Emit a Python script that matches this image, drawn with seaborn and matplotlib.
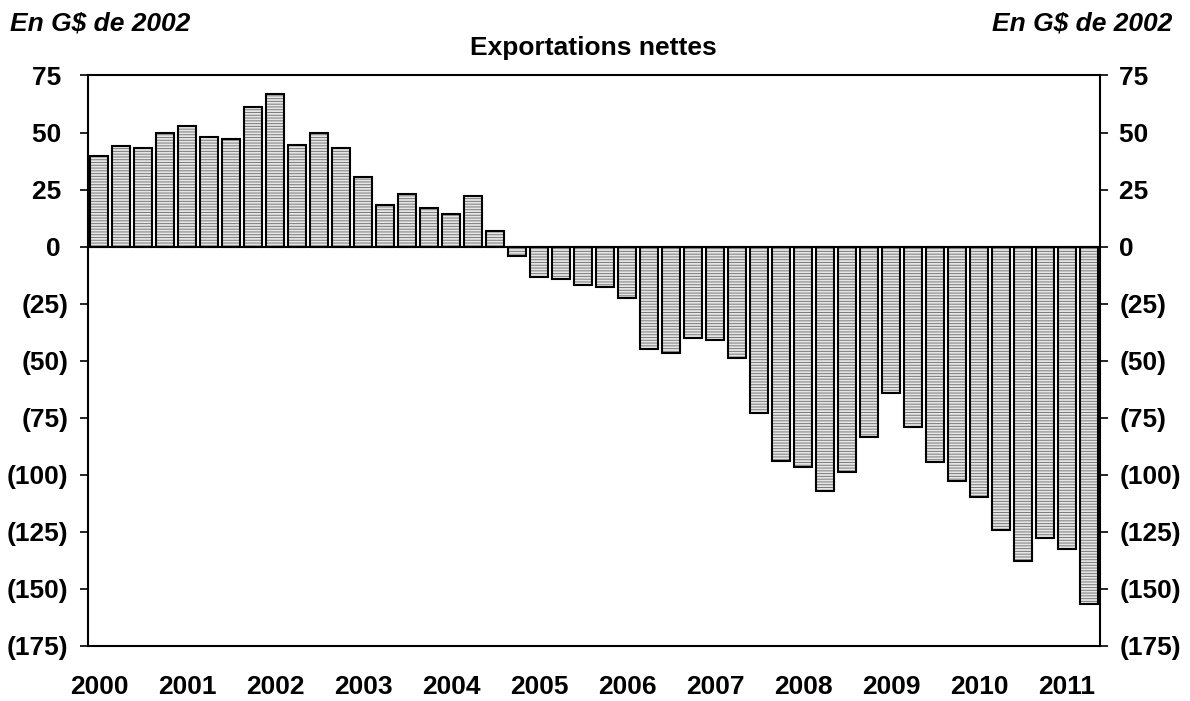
import matplotlib
matplotlib.use('Agg')
import matplotlib.pyplot as plt
import seaborn as sns
import pandas as pd
import numpy as np

sns.set_style('white')
plt.rcParams['font.family'] = ['Liberation Sans', 'DejaVu Sans']
plt.rcParams.update({'hatch.linewidth': 0.7, 'text.color': 'black',
                     'xtick.color': 'black', 'ytick.color': 'black'})

# Exportations nettes, trimestriel 2000T1 - 2011T2 (G$ de 2002)
years = list(range(2000, 2012))
quarters = [f'{y}T{q}' for y in years for q in range(1, 5)][:46]
net_exports = [39.7, 43.9, 43.0, 49.6, 52.9, 48.0, 47.1, 61.1, 67.0, 44.7,
               49.6, 43.0, 30.7, 18.3, 23.2, 16.7, 14.2, 22.3, 6.7, -4.2,
               -13.3, -14.2, -16.7, -17.6, -22.4, -44.8, -46.5, -39.9, -40.8, -48.9,
               -72.8, -94.0, -96.6, -107.1, -98.9, -83.4, -64.3, -79.1, -94.6, -102.9,
               -109.6, -124.4, -137.7, -127.7, -132.8, -156.6]
y_ticks = [75, 50, 25, 0, -25, -50, -75, -100, -125, -150, -175]


def fmt(v):
    return f'({abs(v)})' if v < 0 else f'{v} '


def draw():
    df = pd.DataFrame({'trimestre': quarters, 'valeur': net_exports})
    fig = plt.figure(figsize=(11.9, 7.01), dpi=100, facecolor='white')
    ax = fig.add_axes([0.0739, 0.0789, 0.8505, 0.8134])

    # hatched fill
    sns.barplot(data=df, x='trimestre', y='valeur', ax=ax, color='#e6e6e6',
                width=0.82, saturation=1, edgecolor='#7a7a7a', linewidth=0,
                hatch='------', errorbar=None)
    n = len(ax.patches)
    # black outline
    sns.barplot(data=df, x='trimestre', y='valeur', ax=ax, color='white',
                width=0.82, saturation=1, errorbar=None)
    for p in ax.patches[n:]:
        p.set_facecolor('none')
        p.set_edgecolor('black')
        p.set_linewidth(1.5)

    ax.axhline(0, color='black', lw=1.5, zorder=5)
    ax.set_xlim(-0.5, len(quarters) - 0.5)
    ax.set_ylim(-175, 75)

    ax.set_yticks(y_ticks)
    ax.set_yticklabels([fmt(v) for v in y_ticks], fontsize=19, fontweight='bold')
    ax.tick_params(axis='y', direction='out', length=6, width=1.2, pad=8,
                   left=True, right=True, labelleft=True, labelright=True)

    pos = [i for i, q in enumerate(quarters) if q.endswith('T1')]
    ax.set_xticks(pos)
    ax.set_xticklabels([q[:4] for q in quarters if q.endswith('T1')],
                       fontsize=19, fontweight='bold')
    ax.tick_params(axis='x', length=0, pad=21)
    ax.set_xlabel('')
    ax.set_ylabel('')

    for s in ax.spines.values():
        s.set_visible(True)
        s.set_color('black')
        s.set_linewidth(1.5)

    fig.text(0.499, 0.931, 'Exportations nettes', ha='center', va='center',
             fontsize=19, fontweight='bold')
    fig.text(0.008, 0.967, 'En G$ de 2002', ha='left', va='center',
             fontsize=19, fontweight='bold', style='italic')
    fig.text(0.985, 0.967, 'En G$ de 2002', ha='right', va='center',
             fontsize=19, fontweight='bold', style='italic')

    fig.savefig('out.png', dpi=100, facecolor='white')


if __name__ == '__main__':
    draw()
